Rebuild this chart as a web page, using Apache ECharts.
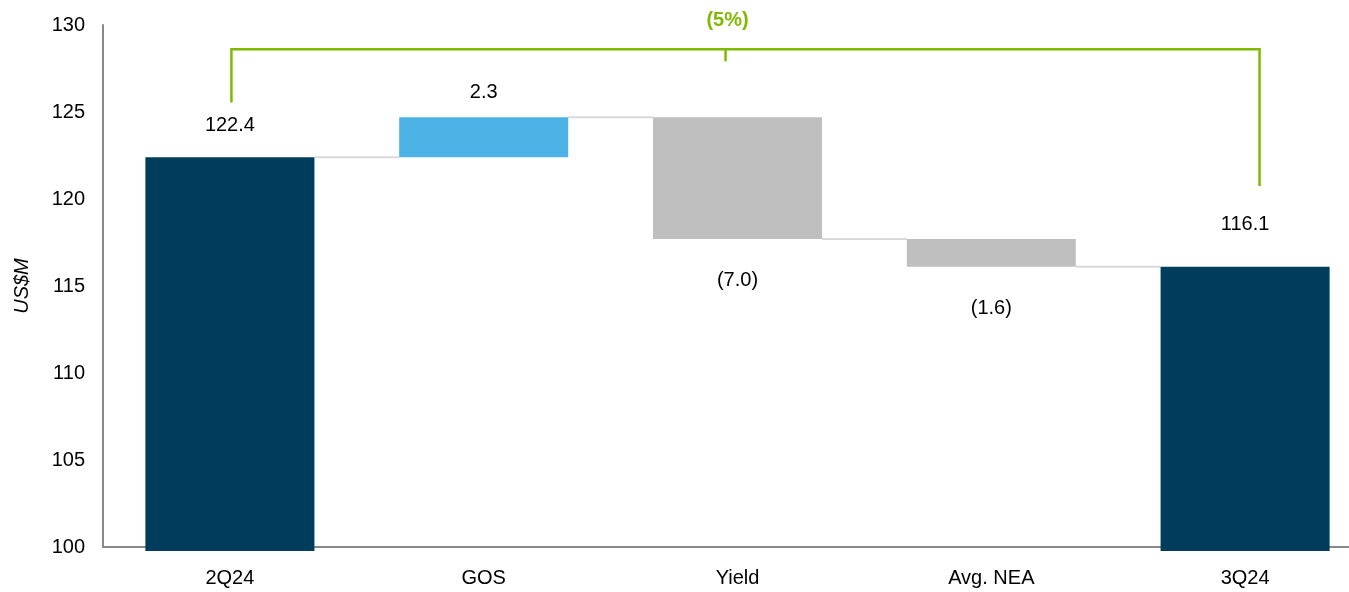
<!DOCTYPE html>
<html>
<head>
<meta charset="utf-8">
<script src="https://cdn.jsdelivr.net/npm/echarts@6/dist/echarts.min.js"></script>
<style>
  html, body { margin: 0; padding: 0; background: #fff; }
  #chart { width: 1349px; height: 592px; }
</style>
</head>
<body>
<div id="chart"></div>
<script>
// ---- data ----
const categories = ['2Q24', 'GOS', 'Yield', 'Avg. NEA', '3Q24'];
const values = [122.4, 2.3, -7.0, -1.6, 116.1];
const isTotal = [true, false, false, false, true];
const valueLabels = ['122.4', '2.3', '(7.0)', '(1.6)', '116.1'];
const yTicks = [100, 105, 110, 115, 120, 125, 130];
const changeLabel = '(5%)';

// ---- styling / layout ----
const FONT = '"Liberation Sans", Arial, Helvetica, sans-serif';
const FS = 20;
const COLORS = {
  total: '#003d5c', up: '#4db3e6', down: '#bfbfbf',
  connector: '#d9d9d9', bracket: '#7fba00', axis: '#898989', text: '#000000'
};
const BAR_W = 0.666;                         // bar width in category units
const labelOffsets = [-32, -25, 41, 42, -42]; // px: negative = above bar top, positive = below bar bottom
const bracket = { top: 128.6, leftEnd: 125.55, rightEnd: 120.75, leftX: 0.006, rightX: 4.057, tickX: 1.953, tickLen: 12, labelGap: 29 };

const yMin = yTicks[0], yMax = yTicks[yTicks.length - 1];

// build waterfall segments from the values
const segments = [];
const levels = [];
let running = 0;
values.forEach((v, i) => {
  let lo, hi, kind;
  if (isTotal[i]) {
    lo = yMin; hi = v; running = v; kind = 'total';
  } else {
    const start = running, end = running + v;
    lo = Math.min(start, end); hi = Math.max(start, end);
    running = end; kind = v >= 0 ? 'up' : 'down';
  }
  segments.push([i, lo, hi, kind]);
  levels.push(running);
});
const connectors = levels.slice(0, -1).map((lv, i) => [i, lv]);

const chart = echarts.init(document.getElementById('chart'), null, { renderer: 'canvas' });

const option = {
  animation: false,
  backgroundColor: '#ffffff',
  grid: { left: 103, top: 25, bottom: 45, right: -23, containLabel: false, outerBoundsMode: 'none' },
  xAxis: [
    {
      type: 'category',
      data: categories,
      boundaryGap: true,
      axisLine: { show: true, onZero: false, lineStyle: { color: COLORS.axis, width: 2 } },
      axisTick: { show: false },
      axisLabel: { color: COLORS.text, fontSize: FS, fontFamily: FONT, margin: 21 },
      splitLine: { show: false }
    },
    {
      type: 'value', min: -0.5, max: 4.5, show: false,
      splitLine: { show: false }
    }
  ],
  yAxis: {
    type: 'value',
    min: yMin, max: yMax, interval: 5,
    name: 'US$M',
    nameLocation: 'middle',
    nameRotate: 90,
    nameGap: 71,
    nameTextStyle: { color: COLORS.text, fontSize: FS, fontStyle: 'italic', fontFamily: FONT },
    axisLine: { show: true, onZero: false, lineStyle: { color: COLORS.axis, width: 2 } },
    axisTick: { show: false },
    axisLabel: { color: COLORS.text, fontSize: FS, fontFamily: FONT, margin: 18 },
    splitLine: { show: false }
  },
  series: [
    {
      // connector lines between bars
      type: 'custom',
      xAxisIndex: 1,
      data: connectors,
      z: 1,
      renderItem(params, api) {
        const i = api.value(0), lv = api.value(1);
        const half = api.size([BAR_W, 0])[0] / 2;
        const a = api.coord([i, lv]), b = api.coord([i + 1, lv]);
        return {
          type: 'line',
          shape: { x1: a[0] + half, y1: a[1], x2: b[0] - half, y2: b[1] },
          style: { stroke: COLORS.connector, lineWidth: 2 }
        };
      }
    },
    {
      // waterfall bars with value labels
      type: 'custom',
      xAxisIndex: 1,
      data: segments,
      z: 2,
      renderItem(params, api) {
        const idx = params.dataIndex;
        const i = api.value(0), lo = api.value(1), hi = api.value(2);
        const kind = segments[idx][3];
        const w = api.size([BAR_W, 0])[0];
        const pTop = api.coord([i, hi]);
        const pBot = api.coord([i, lo]);
        const extra = kind === 'total' ? 4 : 0;
        const off = labelOffsets[idx];
        const ly = off < 0 ? pTop[1] + off : pBot[1] + off;
        return {
          type: 'group',
          children: [
            {
              type: 'rect',
              shape: { x: pTop[0] - w / 2, y: pTop[1], width: w, height: pBot[1] - pTop[1] + extra },
              style: { fill: COLORS[kind] }
            },
            {
              type: 'text',
              style: {
                text: valueLabels[idx], x: pTop[0], y: ly,
                align: 'center', verticalAlign: 'middle',
                textAlign: 'center', textVerticalAlign: 'middle',
                font: FS + 'px ' + FONT, fill: COLORS.text
              }
            }
          ]
        };
      }
    },
    {
      // bracket showing overall change
      type: 'custom',
      xAxisIndex: 1,
      data: [[0]],
      z: 3,
      renderItem(params, api) {
        const l1 = api.coord([bracket.leftX, bracket.leftEnd]);
        const l2 = api.coord([bracket.leftX, bracket.top]);
        const r2 = api.coord([bracket.rightX, bracket.top]);
        const r1 = api.coord([bracket.rightX, bracket.rightEnd]);
        const t = api.coord([bracket.tickX, bracket.top]);
        return {
          type: 'group',
          children: [
            {
              type: 'polyline',
              shape: { points: [l1, l2, r2, r1] },
              style: { stroke: COLORS.bracket, lineWidth: 2.5, fill: null, lineJoin: 'miter' }
            },
            {
              type: 'line',
              shape: { x1: t[0], y1: t[1], x2: t[0], y2: t[1] + bracket.tickLen },
              style: { stroke: COLORS.bracket, lineWidth: 2.5 }
            },
            {
              type: 'text',
              style: {
                text: changeLabel, x: t[0] + 2, y: t[1] - bracket.labelGap,
                align: 'center', verticalAlign: 'middle',
                textAlign: 'center', textVerticalAlign: 'middle',
                font: 'bold ' + FS + 'px ' + FONT, fill: COLORS.bracket
              }
            }
          ]
        };
      }
    }
  ]
};

chart.setOption(option);
</script>
</body>
</html>
